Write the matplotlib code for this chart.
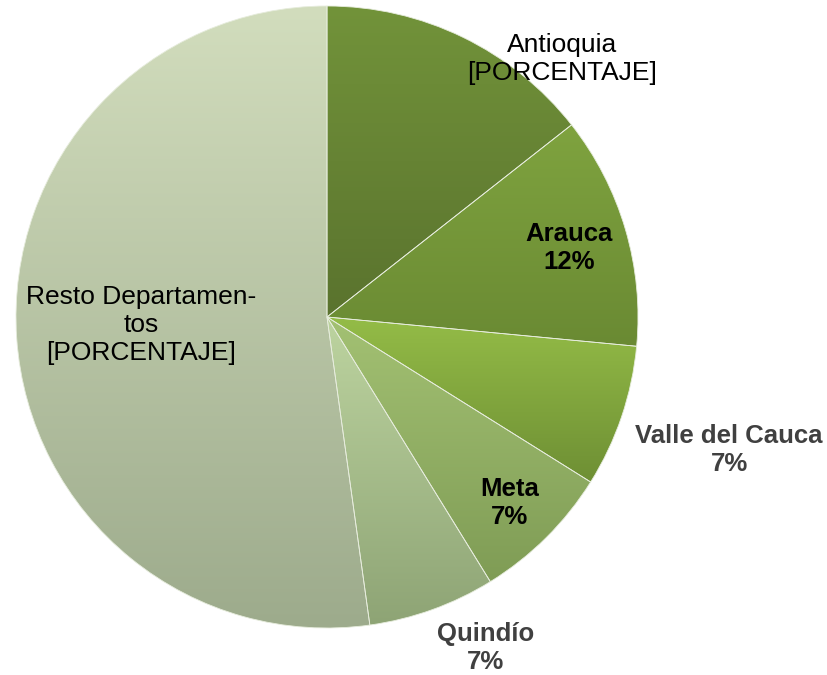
import numpy as np
import matplotlib
matplotlib.use("Agg")
import matplotlib.pyplot as plt
from matplotlib.colors import LinearSegmentedColormap

plt.rcParams['font.family'] = ['Liberation Sans', 'DejaVu Sans']

# slice data (clockwise from 12 o'clock)
departamentos = ["Antioquia", "Arauca", "Valle del Cauca", "Meta", "Quindío", "Resto Departamen-\ntos"]
valores = [14.4, 12.1, 7.4, 7.3, 6.6, 52.2]

# gradient colours per slice: top -> bottom
top_colors = ["#72933a", "#7fa33f", "#94bc47", "#a3c173", "#bdd4a0", "#d2ddbd"]
bottom_colors = ["#5a732e", "#6a8a33", "#6e8f34", "#7f9c55", "#8ea475", "#9dab8c"]

fig = plt.figure(figsize=(8.28, 6.75), dpi=100)
ax = fig.add_axes([16 / 828, 47 / 675, 622 / 828, 622 / 675])

wedges, _ = ax.pie(valores, startangle=90, counterclock=False, radius=1,
                   colors=top_colors,
                   wedgeprops=dict(edgecolor="#e6ecdc", linewidth=0.6))

grad = np.linspace(0, 1, 256).reshape(-1, 1)
for w, c1, c2 in zip(wedges, top_colors, bottom_colors):
    bb = w.get_path().get_extents()
    cmap = LinearSegmentedColormap.from_list("g", [c1, c2])
    im = ax.imshow(grad, cmap=cmap, extent=(bb.x0, bb.x1, bb.y0, bb.y1),
                   origin="upper", aspect="auto", zorder=1)
    im.set_clip_path(w)
    w.set_facecolor("none")
    w.set_zorder(2)

ax.set_xlim(-1, 1)
ax.set_ylim(-1, 1)
ax.set_aspect("auto")
ax.axis("off")

pct = [f"{round(v):.0f}%" for v in valores]
ls = 1.22

# data labels
ax.text(0.757, 0.830, departamentos[0] + "\n[PORCENTAJE]", ha="center", va="center",
        fontsize=19, color="black", linespacing=ls, zorder=3)
ax.text(0.778, 0.222, departamentos[1] + "\n" + pct[1], ha="center", va="center",
        fontsize=18.5, fontweight="bold", color="black", linespacing=ls, zorder=3)
ax.text(1.293, -0.428, departamentos[2] + "\n" + pct[2], ha="center", va="center",
        fontsize=18.5, fontweight="bold", color="#404040", linespacing=ls, zorder=3)
ax.text(0.588, -0.598, departamentos[3] + "\n" + pct[3], ha="center", va="center",
        fontsize=18.5, fontweight="bold", color="black", linespacing=ls, zorder=3)
ax.text(0.511, -1.064, departamentos[4] + "\n" + pct[4], ha="center", va="center",
        fontsize=18.5, fontweight="bold", color="#404040", linespacing=ls, zorder=3)
ax.text(-0.598, -0.026, departamentos[5] + "\n[PORCENTAJE]", ha="center", va="center",
        fontsize=19, color="black", linespacing=ls, zorder=3)

fig.savefig("out.png", dpi=100)
